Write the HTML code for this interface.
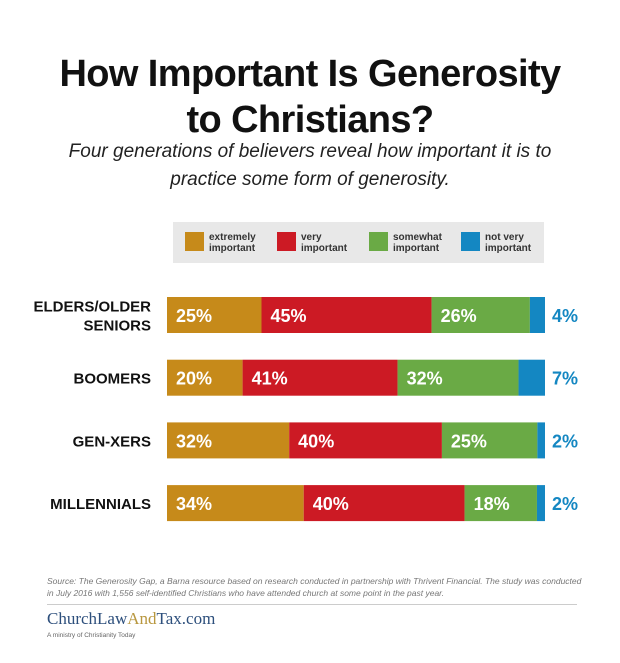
<!DOCTYPE html>
<html><head><meta charset="utf-8"><style>
body{margin:0;background:#fff;width:620px;height:663px;position:relative;font-family:"Liberation Sans",sans-serif;overflow:hidden}
.t{position:absolute;left:0;width:620px;text-align:center;font-weight:bold;font-size:38px;color:#111;letter-spacing:-0.6px}
.s{position:absolute;left:0;width:620px;text-align:center;font-style:italic;font-size:19px;color:#222}
</style></head><body>
<div class="t" style="top:53px">How Important Is Generosity</div>
<div class="t" style="top:99px">to Christians?</div>
<div class="s" style="top:138px;line-height:28px">Four generations of believers reveal how important it is to<br>practice some form of generosity.</div>
<svg id="c" width="620" height="663" style="position:absolute;left:0;top:0"></svg>
<div style="position:absolute;left:47px;top:575px;width:540px;font-size:8.5px;line-height:12px;color:#777;font-style:italic">Source: The Generosity Gap, a Barna resource based on research conducted in partnership with Thrivent Financial. The study was conducted in July 2016 with 1,556 self-identified Christians who have attended church at some point in the past year.</div>
<div style="position:absolute;left:47px;top:604px;width:530px;height:1px;background:#ccc"></div>
<div style="position:absolute;left:47px;top:609px;font-family:'Liberation Serif',serif;font-size:17px;color:#2d4f7c">ChurchLaw<span style="color:#b8973f">And</span>Tax.com</div>
<div style="position:absolute;left:47px;top:632px;font-size:6.5px;color:#666">A ministry of Christianity Today</div>
<script>
const categories=["ELDERS/OLDER SENIORS","BOOMERS","GEN-XERS","MILLENNIALS"];
const extremely=[25,20,32,34];
const very=[45,41,40,40];
const somewhat=[26,32,25,18];
const notVery=[4,7,2,2];
const seriesNames=["extremely important","very important","somewhat important","not very important"];
const colors=["#c68a1a","#cc1a24","#6aaa45","#1487c2"];
const NS="http://www.w3.org/2000/svg";
const svg=document.getElementById('c');
const x0=167,x1=545;
const series=[extremely,very,somewhat,notVery];
const xs=(v,i)=>v*(x1-x0)/series.reduce((s,a)=>s+a[i],0);
const yc=i=>315+i*62.7;
function mk(t,a){const e=document.createElementNS(NS,t);for(const k in a)e.setAttribute(k,a[k]);svg.appendChild(e);return e;}
const lg=mk('rect',{x:173,y:222,width:371,height:41,fill:'#e8e8e8'});


const lx=[185,277,369,461];
seriesNames.forEach((n,j)=>{
  const r=mk('rect',{x:lx[j],y:232,width:19,height:19,fill:colors[j]});
  
  
  const w=n.split(' ');
  const last=w.pop();
  [w.join(' '),last].forEach((s,k)=>{
    const t=mk('text',{x:lx[j]+24,y:240+k*11,'font-size':10,'font-weight':'bold',fill:'#333'});t.textContent=s;
    
    
  });
});
categories.forEach((c,i)=>{
  const y=yc(i);
  const parts=c.split(' ');
  const lines=parts.length>1?[parts[0],parts.slice(1).join(' ')]:[c];
  lines.forEach((s,k)=>{
    const t=mk('text',{x:151,y:y+6+(lines.length>1?(k-0.5)*19:0),'text-anchor':'end','font-size':15,'font-weight':'bold',fill:'#111'});
    t.textContent=s;
    
    
  });
  let x=x0;
  series.forEach((arr,j)=>{
    const w=xs(arr[i],i);
    const r=mk('rect',{x:x,y:y-18,width:w,height:36,fill:colors[j]});
    
    
    const t=mk('text',{x:j<3?x+9:x1+7,y:y+7,'font-size':18,'font-weight':'bold',fill:j<3?'#fff':colors[3]});
    t.textContent=arr[i]+'%';
    
    
    x+=w;
  });
});
</script>
</body></html>
